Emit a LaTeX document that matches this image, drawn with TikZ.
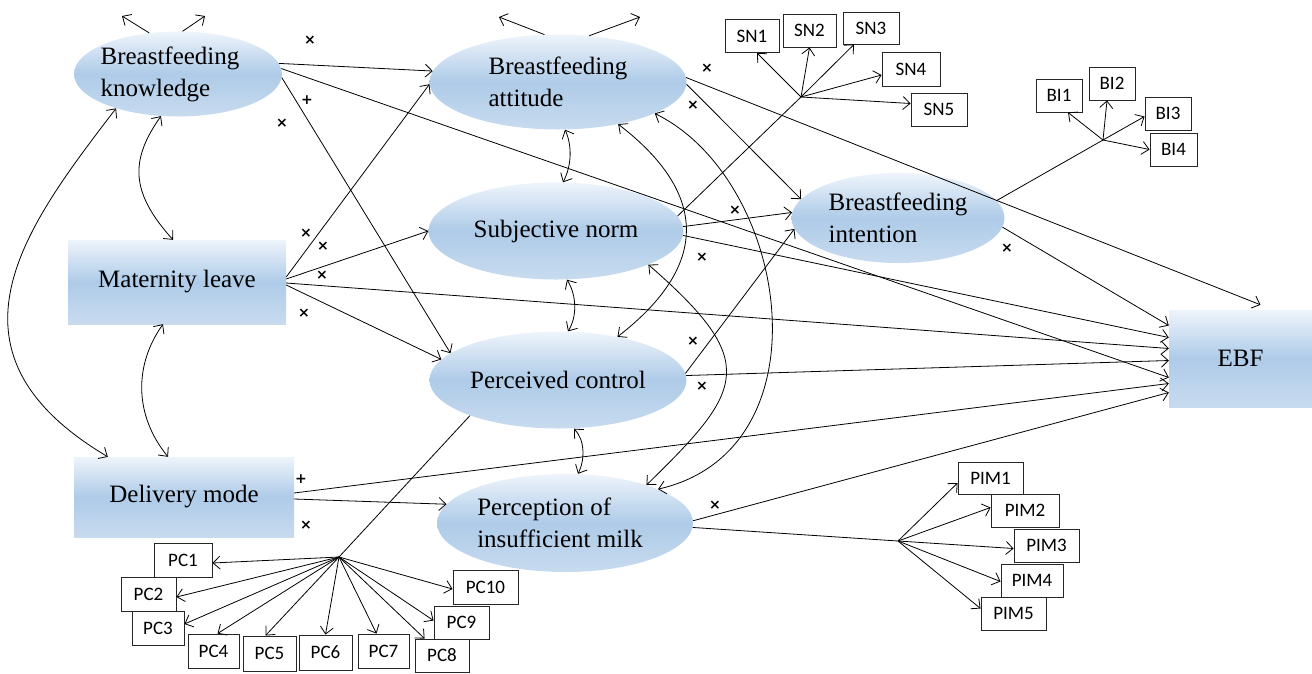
\documentclass[tikz,border=0pt]{standalone}
\usepackage{fontspec}
\setmainfont{Liberation Serif}
\newfontfamily\boxfont{Carlito}
\newfontfamily\markfont{DejaVu Sans}
\usetikzlibrary{shapes.geometric,arrows.meta,calc}
\definecolor{gtop}{HTML}{EEF4FB}
\definecolor{gmid}{HTML}{AECBE8}
\definecolor{gbot}{HTML}{C8DBEF}
\begin{document}
\begin{tikzpicture}[x=1pt,y=-1pt,
  latent/.style={ellipse, inner sep=0pt, top color=gtop, bottom color=gbot, middle color=gmid, align=left, font=\fontsize{25}{32}\selectfont},
  observed/.style={rectangle, inner sep=0pt, top color=gtop, bottom color=gbot, middle color=gmid, font=\fontsize{25}{32}\selectfont},
  item/.style={draw=black!85, fill=white, rectangle, inner sep=0pt, line width=0.9pt, font=\boxfont\fontsize{19}{22}\selectfont},
  arr/.style={-{Straight Barb[length=7pt,width=13pt]}, line width=0.8pt},
  link/.style={line width=0.8pt},
  corr/.style={{Straight Barb[length=7pt,width=13pt]}-{Straight Barb[length=7pt,width=13pt]}, line width=0.8pt},
  sign/.style={font=\markfont\bfseries\fontsize{14}{14}\selectfont, inner sep=0pt},
]
\useasboundingbox (0,0) rectangle (1312,673);

% latent variables
\node[latent, inner xsep=-10pt, minimum width=208pt, minimum height=85pt] (BK) at (178,74) {\rule{0pt}{4pt}Breastfeeding\hspace*{16pt}\\knowledge};
\node[latent, minimum width=257pt, minimum height=95pt] (BA) at (558,82) {Breastfeeding\\attitude};
\node[latent, minimum width=255pt, minimum height=97pt] (SN) at (556,231) {Subjective norm};
\node[latent, minimum width=257pt, minimum height=97pt] (PC) at (558,380) {Perceived control};
\node[latent, inner xsep=-6pt, minimum width=256pt, minimum height=98pt] (PIM) at (565,523) {Perception of\\insufficient milk\hspace*{10pt}};
\node[latent, minimum width=213pt, minimum height=90pt] (BI) at (898,218) {Breastfeeding\\intention};

% observed variables
\node[observed, minimum width=218pt, minimum height=84pt] (ML) at (177,282) {Maternity leave};
\node[observed, minimum width=220pt, minimum height=80pt] (DM) at (184,497) {Delivery mode};
\node[observed, minimum width=143pt, minimum height=97pt] (EBF) at (1240.5,358.5) {EBF};

% SN items
\node[item, minimum width=54pt, minimum height=33pt] (SN1) at (752,36) {SN1};
\node[item, minimum width=53pt, minimum height=33pt] (SN2) at (809.5,30.5) {SN2};
\node[item, minimum width=56pt, minimum height=32pt] (SN3) at (871,28) {SN3};
\node[item, minimum width=58pt, minimum height=34pt] (SN4) at (911,69) {SN4};
\node[item, minimum width=56pt, minimum height=33pt] (SN5) at (939,109.5) {SN5};
\coordinate (snhub) at (801,97);

% BI items
\node[item, minimum width=46pt, minimum height=33pt] (BI1) at (1059,95.5) {BI1};
\node[item, minimum width=46pt, minimum height=33pt] (BI2) at (1112,83.5) {BI2};
\node[item, minimum width=46pt, minimum height=33pt] (BI3) at (1168,113.5) {BI3};
\node[item, minimum width=47pt, minimum height=33pt] (BI4) at (1173.5,149.5) {BI4};
\coordinate (bihub) at (1103,140);

% PC items
\node[item, minimum width=58pt, minimum height=34pt] (PC1) at (183,560) {PC1};
\node[item, minimum width=55pt, minimum height=34pt] (PC2) at (148.5,594) {PC2};
\node[item, minimum width=52pt, minimum height=34pt] (PC3) at (158,628) {PC3};
\node[item, minimum width=51pt, minimum height=34pt] (PC4) at (213.5,651) {PC4};
\node[item, minimum width=53pt, minimum height=35pt] (PC5) at (269.5,653.5) {PC5};
\node[item, minimum width=53pt, minimum height=35pt] (PC6) at (325.5,652.5) {PC6};
\node[item, minimum width=51pt, minimum height=34pt] (PC7) at (383.5,651) {PC7};
\node[item, minimum width=54pt, minimum height=33pt] (PC8) at (442,655.5) {PC8};
\node[item, minimum width=55pt, minimum height=33pt] (PC9) at (461.5,622.5) {PC9};
\node[item, minimum width=65pt, minimum height=34pt] (PC10) at (485.5,587) {PC10};
\coordinate (pchub) at (339,557);

% PIM items
\node[item, minimum width=65pt, minimum height=32pt] (PIM1) at (990.5,478) {PIM1};
\node[item, minimum width=68pt, minimum height=33pt] (PIM2) at (1025,510.5) {PIM2};
\node[item, minimum width=65pt, minimum height=33pt] (PIM3) at (1046.5,545.5) {PIM3};
\node[item, minimum width=62pt, minimum height=33pt] (PIM4) at (1032,580.5) {PIM4};
\node[item, minimum width=65pt, minimum height=33pt] (PIM5) at (1013.5,613.5) {PIM5};
\coordinate (pimhub) at (898,541);

% error arrows on top
\coordinate (bkeL) at (122,16);
\coordinate (bkeR) at (205,16);
\coordinate (baeL) at (499,17);
\coordinate (baeR) at (640,17);
\draw[arr] (BK.125) -- (bkeL);
\draw[arr] (BK.84) -- (bkeR);
\draw[arr] (BA.106) -- (baeL);
\draw[arr] (BA.56) -- (baeR);

% structural paths
\draw[arr] (BK.6) -- (BA.175);
\draw[arr] (BK.3) -- ([yshift=-19pt]EBF.west);
\draw[arr] (BK.-2) -- (PC.166);
\draw[arr] ([yshift=5pt]ML.east) -- (BA.181);
\draw[arr] ([yshift=3pt]ML.east) -- (SN.180);
\draw[arr] ([yshift=-1pt]ML.east) -- ([yshift=10pt]EBF.west);
\draw[arr] ([yshift=-3pt]ML.east) -- (PC.170);
\draw[arr] (BA.-1) -- (BI.169);
\draw[arr] (BA.2) -- ([xshift=20pt,yshift=5pt]EBF.north);
\draw[arr] (SN.2) -- (BI.177);
\draw[arr] (SN.-2) -- ([yshift=21pt]EBF.west);
\draw[arr] (PC.3) -- (BI.186);
\draw[arr] (PC.2) -- ([yshift=-2pt]EBF.west);
\draw[arr] (BI.-5) -- ([yshift=33pt]EBF.west);
\draw[arr] ([yshift=4pt]DM.east) -- ([yshift=-25pt]EBF.west);
\draw[arr] ([yshift=-2pt]DM.east) -- (PIM.171);
\draw[arr] (PIM.1) -- ([yshift=-34pt]EBF.west);

% measurement: SN
\draw[link] (SN.7) -- (snhub);
\draw[arr] (snhub) -- ([xshift=5pt]SN1.south);
\draw[arr] (snhub) -- (SN2.south);
\draw[arr] (snhub) -- ([xshift=-17pt]SN3.south);
\draw[arr] (snhub) -- ([yshift=-6pt]SN4.west);
\draw[arr] (snhub) -- ([yshift=6pt]SN5.west);

% measurement: BI
\draw[link] (BI.10) -- (bihub);
\draw[arr] (bihub) -- ([xshift=9pt]BI1.south);
\draw[arr] (bihub) -- ([xshift=-5pt]BI2.south);
\draw[arr] (bihub) -- ([yshift=-3pt]BI3.west);
\draw[arr] (bihub) -- (BI4.west);

% measurement: PC
\draw[link] (PC.202) -- (pchub);
\draw[arr] (pchub) -- ([yshift=-3pt]PC1.east);
\draw[arr] (pchub) -- ([yshift=-3pt]PC2.east);
\draw[arr] (pchub) -- ([yshift=4pt]PC3.east);
\draw[arr] (pchub) -- ([xshift=4pt]PC4.north);
\draw[arr] (pchub) -- ([xshift=-4pt]PC5.north);
\draw[arr] (pchub) -- (PC6.north);
\draw[arr] (pchub) -- ([xshift=-7pt]PC7.north);
\draw[arr] (pchub) -- ([xshift=10pt]PC8.north west);
\draw[arr] (pchub) -- ([yshift=2pt]PC9.west);
\draw[arr] (pchub) -- ([yshift=-2pt]PC10.west);

% measurement: PIM
\draw[link] (PIM.-2) -- (pimhub);
\draw[arr] (pimhub) -- ([yshift=-5pt]PIM1.west);
\draw[arr] (pimhub) -- ([yshift=3pt]PIM2.west);
\draw[arr] (pimhub) -- ([yshift=-3pt]PIM3.west);
\draw[arr] (pimhub) -- ([yshift=-1pt]PIM4.west);
\draw[arr] (pimhub) -- ([yshift=5pt]PIM5.west);

% correlations
\draw[corr] (BK.248) .. controls (130,160) and (130,192) .. ([xshift=-4pt]ML.north);
\draw[corr] ([xshift=-14pt]ML.south) .. controls (134,365) and (134,415) .. ([xshift=-16pt]DM.north);
\draw[corr] (BK.209) .. controls (26,226) and (-70,351) .. ([xshift=34pt]DM.north west);
\draw[corr] ([xshift=7pt]BA.south) .. controls (572,145) and (572,165) .. ([xshift=7pt]SN.north);
\draw[corr] ([xshift=11pt]SN.south) .. controls (577,296) and (577,317) .. ([xshift=10pt]PC.north);
\draw[corr] ([xshift=16pt]PC.south) .. controls (585,440) and (585,460) .. ([xshift=13pt]PIM.north);
\draw[corr] (BA.-35) .. controls (709,194) and (709,266) .. (PC.36);
\draw[corr] (BA.-18) .. controls (790,180) and (830,450) .. (PIM.20);
\draw[corr] (SN.-20) .. controls (760,362) and (745,389) .. (PIM.25);

% signs
\node[sign] (s1) at (310,40) {×};
\node[sign] (s2) at (307,100) {+};
\node[sign] (s3) at (282,123) {×};
\node[sign] (s4) at (306,233) {×};
\node[sign] (s5) at (323,246) {×};
\node[sign] (s6) at (322,275) {×};
\node[sign] (s7) at (304,313) {×};
\node[sign] (s8) at (707,68) {×};
\node[sign] (s9) at (693,105) {×};
\node[sign] (s10) at (735,210) {×};
\node[sign] (s11) at (702,257) {×};
\node[sign] (s12) at (693,341) {×};
\node[sign] (s13) at (702,386) {×};
\node[sign] (s14) at (1007,248) {×};
\node[sign] (s15) at (715,505) {×};
\node[sign] (s16) at (301,479) {+};
\node[sign] (s17) at (306,525) {×};
\end{tikzpicture}
\end{document}
